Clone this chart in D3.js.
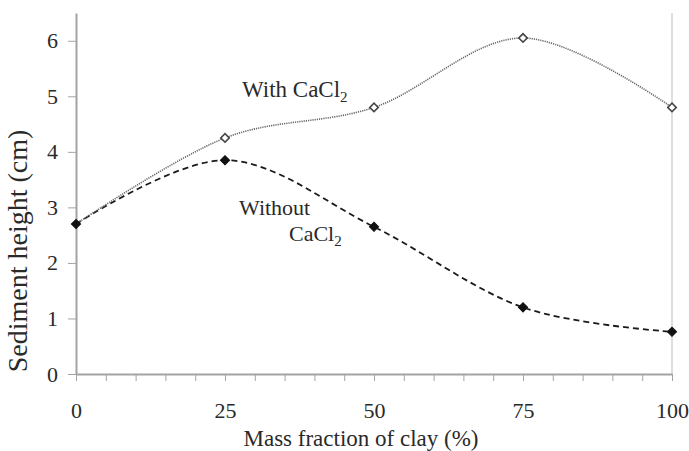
<!DOCTYPE html>
<html>
<head>
<meta charset="utf-8">
<script src="https://cdn.jsdelivr.net/npm/d3@7"></script>
<style>
  html, body { margin: 0; padding: 0; background: #fff; }
  svg { display: block; }
</style>
</head>
<body>
<svg id="chart" width="689" height="451"></svg>
<script>
const massFraction = [0, 25, 50, 75, 100];
const withCaCl2 = [2.7, 4.25, 4.8, 6.05, 4.8];
const withoutCaCl2 = [2.7, 3.85, 2.65, 1.2, 0.76];
const xTicks = [0, 25, 50, 75, 100];
const xMinorTicks = d3.range(0, 101, 5);
const yTicks = [0, 1, 2, 3, 4, 5, 6];

const FONT = "Liberation Serif";
const TXT = "#2a2a2a";
const svg = d3.select("#chart");
const margin = { left: 76, right: 17, top: 13, bottom: 77 };
const W = 689, H = 451;

const x = d3.scaleLinear().domain([0, 100]).range([margin.left, W - margin.right]);
const y = d3.scaleLinear().domain([0, 6.5]).range([H - margin.bottom, margin.top]);

const axisColor = "#a3a3a3";

// Right border line
svg.append("line")
  .attr("x1", x(100)).attr("x2", x(100))
  .attr("y1", y(6.5)).attr("y2", y(0))
  .attr("stroke", "#c8c8c8").attr("stroke-width", 1.2);

// X axis: minor ticks
const gxm = svg.append("g").attr("transform", `translate(0,${y(0)})`)
  .call(d3.axisBottom(x).tickValues(xMinorTicks).tickSize(7).tickFormat(""));
gxm.select(".domain").remove();
gxm.selectAll("line").attr("stroke", axisColor).attr("stroke-width", 1);

// X axis main
const gx = svg.append("g").attr("transform", `translate(0,${y(0)})`)
  .call(d3.axisBottom(x).tickValues(xTicks).tickSize(7).tickPadding(21).tickSizeOuter(0).tickFormat(d3.format("d")));
gx.attr("font-family", FONT).attr("font-size", 22);
gx.select(".domain").attr("stroke", axisColor).attr("stroke-width", 2);
gx.selectAll("line").attr("stroke", axisColor);
gx.selectAll("text").attr("font-family", FONT).attr("font-size", 22).attr("fill", TXT);

// Y axis
const gy = svg.append("g").attr("transform", `translate(${x(0)},0)`)
  .call(d3.axisLeft(y).tickValues(yTicks).tickSize(8).tickPadding(10).tickSizeOuter(0).tickFormat(d3.format("d")));
gy.attr("font-family", FONT).attr("font-size", 22);
gy.select(".domain").attr("stroke", axisColor).attr("stroke-width", 2);
gy.selectAll("line").attr("stroke", axisColor);
gy.selectAll("text").attr("font-family", FONT).attr("font-size", 22).attr("fill", TXT);

// Axis titles
svg.append("text")
  .attr("x", 361).attr("y", 446)
  .attr("text-anchor", "middle").attr("font-family", FONT).attr("font-size", 23).attr("fill", TXT)
  .text("Mass fraction of clay (%)");

svg.append("text")
  .attr("transform", "translate(27,251) rotate(-90)")
  .attr("text-anchor", "middle").attr("font-family", FONT).attr("font-size", 28).attr("fill", TXT)
  .text("Sediment height (cm)");

// Lines
const line = d3.line()
  .x((d, i) => x(massFraction[i]))
  .y(d => y(d))
  .curve(d3.curveCardinal.tension(0));

svg.append("path")
  .datum(withoutCaCl2)
  .attr("d", line)
  .attr("fill", "none").attr("stroke", "#1a1a1a")
  .attr("stroke-width", 1.8).attr("stroke-dasharray", "6,4");

svg.append("path")
  .datum(withCaCl2)
  .attr("d", line)
  .attr("fill", "none").attr("stroke", "#666")
  .attr("stroke-width", 1.6).attr("stroke-dasharray", "1.2,1");

// Markers: without (filled)
svg.append("g").selectAll("path")
  .data(withoutCaCl2)
  .join("path")
  .attr("d", d3.symbol().type(d3.symbolSquare).size(42))
  .attr("transform", (d, i) => `translate(${x(massFraction[i])},${y(d)}) rotate(45)`)
  .attr("fill", "#111").attr("stroke", "#111").attr("stroke-width", 1);

// Markers: with (open)
svg.append("g").selectAll("path")
  .data(withCaCl2.slice(1))
  .join("path")
  .attr("d", d3.symbol().type(d3.symbolSquare).size(36))
  .attr("transform", (d, i) => `translate(${x(massFraction[i + 1])},${y(d)}) rotate(45)`)
  .attr("fill", "#fff").attr("stroke", "#444").attr("stroke-width", 1.6);

// Series labels
const t1 = svg.append("text").attr("x", 242).attr("y", 97)
  .attr("font-family", FONT).attr("font-size", 23).attr("fill", TXT);
t1.append("tspan").text("With CaCl");
t1.append("tspan").attr("font-size", 15).attr("dy", 5).text("2");

svg.append("text").attr("x", 239).attr("y", 215)
  .attr("font-family", FONT).attr("font-size", 22).attr("fill", TXT).text("Without");
const t2 = svg.append("text").attr("x", 289).attr("y", 241)
  .attr("font-family", FONT).attr("font-size", 22).attr("fill", TXT);
t2.append("tspan").text("CaCl");
t2.append("tspan").attr("font-size", 15).attr("dy", 5).text("2");
</script>
</body>
</html>
